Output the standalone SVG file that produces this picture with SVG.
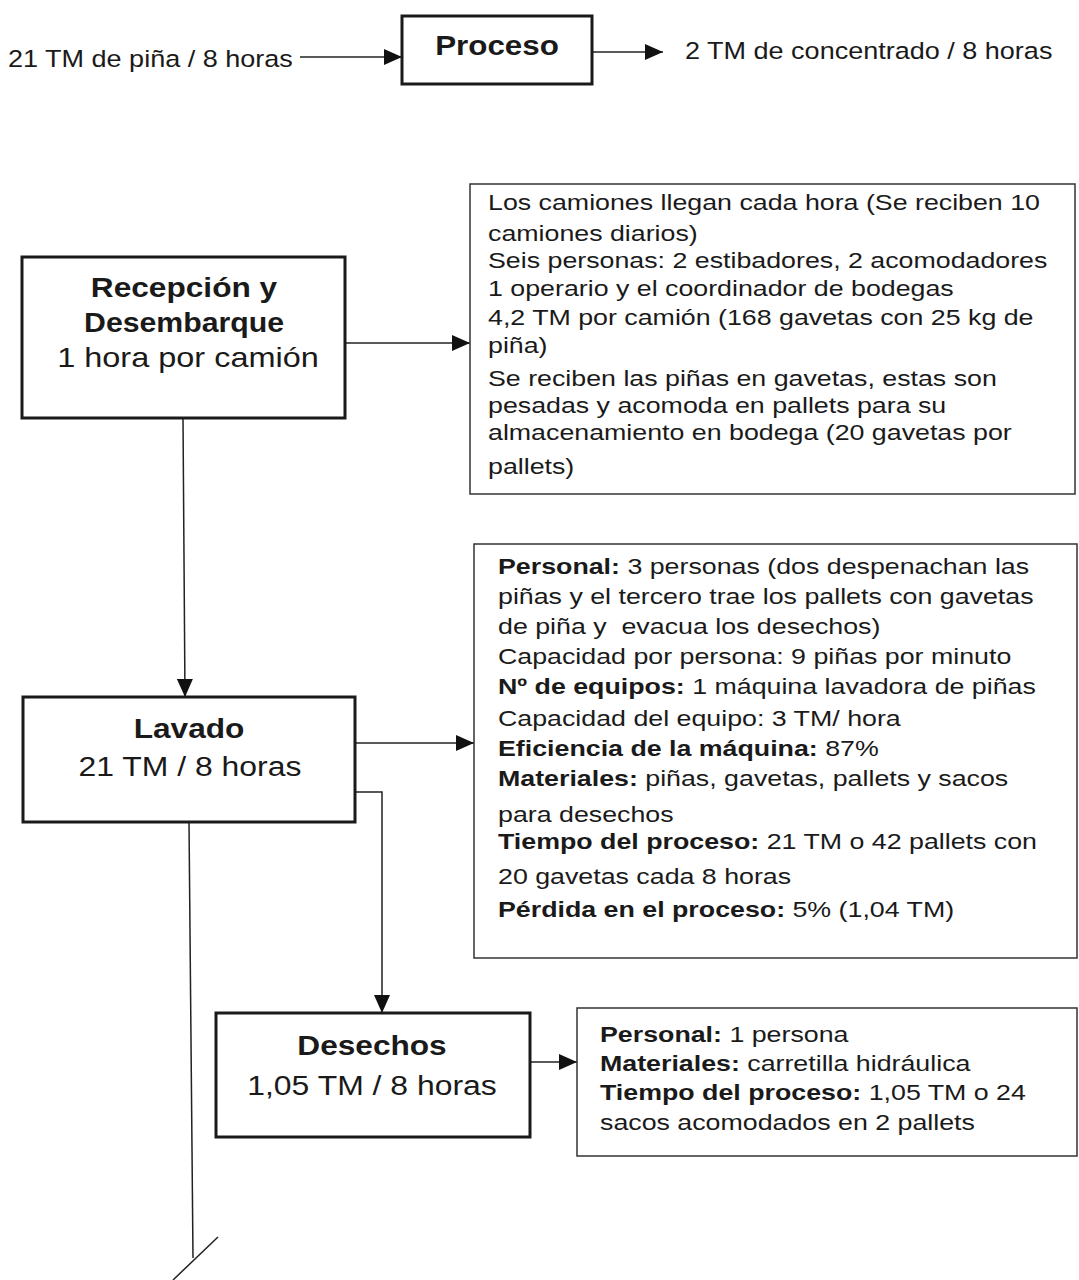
<svg xmlns="http://www.w3.org/2000/svg" width="1079" height="1280" viewBox="0 0 1079 1280">
  <style>
    .t { font-family: "Liberation Sans", Arial, sans-serif; fill: #1a1a1a; }
    .lbl { font-size: 23.5px; }
    .head { font-size: 28px; }
    .note { font-size: 22.5px; white-space: pre; }
    .b { font-weight: bold; }
    .node { fill: #fff; stroke: #1a1a1a; stroke-width: 3; }
    .info { fill: #fff; stroke: #333; stroke-width: 1.5; }
    .wire { fill: none; stroke: #222; stroke-width: 1.5; }
  </style>
  <defs>
    <marker id="arr" viewBox="0 0 18 16" refX="18" refY="8" markerWidth="18" markerHeight="16" markerUnits="userSpaceOnUse" orient="auto">
      <path d="M0,0 L18,8 L0,16 z" fill="#111"/>
    </marker>
  </defs>
  <rect width="1079" height="1280" fill="#fff"/>

  <!-- connectors -->
  <g id="connectors">
    <path class="wire" d="M300,57 L402,57" marker-end="url(#arr)"/>
    <path class="wire" d="M592,52 L663,52" marker-end="url(#arr)"/>
    <path class="wire" d="M345,343 L470,343" marker-end="url(#arr)"/>
    <path class="wire" d="M183,418 L185,697" marker-end="url(#arr)"/>
    <path class="wire" d="M355,743 L474,743" marker-end="url(#arr)"/>
    <path class="wire" d="M355,792 H382 V1013" marker-end="url(#arr)"/>
    <path class="wire" d="M530,1062 L577,1062" marker-end="url(#arr)"/>
    <path class="wire" d="M189,822 L193,1258"/>
    <path class="wire" d="M173,1280 L218,1237"/>
  </g>

  <!-- overall balance -->
  <g id="input-label">
    <text class="t lbl" transform="translate(8,67) scale(1.15,1)">21 TM de piña / 8 horas</text>
  </g>
  <g id="proceso">
    <rect class="node" x="402" y="16" width="190" height="68"/>
    <text class="t b" font-size="27.5" text-anchor="middle" transform="translate(497,55) scale(1.14,1)">Proceso</text>
  </g>
  <g id="output-label">
    <text class="t lbl" transform="translate(685,59) scale(1.15,1)">2 TM de concentrado / 8 horas</text>
  </g>

  <!-- reception -->
  <g id="recepcion">
    <rect class="node" x="22" y="257" width="323" height="161"/>
    <text class="t head b" text-anchor="middle" transform="translate(184,297) scale(1.13,1)">Recepción y</text>
    <text class="t head b" text-anchor="middle" transform="translate(184,332) scale(1.08,1)">Desembarque</text>
    <text class="t head" text-anchor="middle" transform="translate(188,367) scale(1.16,1)">1 hora por camión</text>
  </g>
  <g id="recepcion-info">
    <rect class="info" x="470" y="184" width="605" height="310"/>
    <g transform="translate(488,0)">
      <text class="t note" transform="translate(0,210) scale(1.19,1)">Los camiones llegan cada hora (Se reciben 10</text>
      <text class="t note" transform="translate(0,241) scale(1.19,1)">camiones diarios)</text>
      <text class="t note" transform="translate(0,268) scale(1.19,1)">Seis personas: 2 estibadores, 2 acomodadores</text>
      <text class="t note" transform="translate(0,296) scale(1.19,1)">1 operario y el coordinador de bodegas</text>
      <text class="t note" transform="translate(0,325) scale(1.19,1)">4,2 TM por camión (168 gavetas con 25 kg de</text>
      <text class="t note" transform="translate(0,353) scale(1.19,1)">piña)</text>
      <text class="t note" transform="translate(0,386) scale(1.19,1)">Se reciben las piñas en gavetas, estas son</text>
      <text class="t note" transform="translate(0,413) scale(1.19,1)">pesadas y acomoda en pallets para su</text>
      <text class="t note" transform="translate(0,440) scale(1.19,1)">almacenamiento en bodega (20 gavetas por</text>
      <text class="t note" transform="translate(0,474) scale(1.19,1)">pallets)</text>
    </g>
  </g>

  <!-- washing -->
  <g id="lavado">
    <rect class="node" x="23" y="697" width="332" height="125"/>
    <text class="t head b" text-anchor="middle" transform="translate(189,738) scale(1.13,1)">Lavado</text>
    <text class="t head" text-anchor="middle" transform="translate(190,776) scale(1.14,1)">21 TM / 8 horas</text>
  </g>
  <g id="lavado-info">
    <rect class="info" x="474" y="544" width="603" height="414"/>
    <g transform="translate(498,0)">
      <text class="t note" transform="translate(0,574) scale(1.19,1)"><tspan class="b">Personal:</tspan> 3 personas (dos despenachan las</text>
      <text class="t note" transform="translate(0,604) scale(1.19,1)">piñas y el tercero trae los pallets con gavetas</text>
      <text class="t note" transform="translate(0,634) scale(1.19,1)">de piña y  evacua los desechos)</text>
      <text class="t note" transform="translate(0,664) scale(1.19,1)">Capacidad por persona: 9 piñas por minuto</text>
      <text class="t note" transform="translate(0,694) scale(1.19,1)"><tspan class="b">Nº de equipos:</tspan> 1 máquina lavadora de piñas</text>
      <text class="t note" transform="translate(0,726) scale(1.19,1)">Capacidad del equipo: 3 TM/ hora</text>
      <text class="t note" transform="translate(0,756) scale(1.19,1)"><tspan class="b">Eficiencia de la máquina:</tspan> 87%</text>
      <text class="t note" transform="translate(0,786) scale(1.19,1)"><tspan class="b">Materiales:</tspan> piñas, gavetas, pallets y sacos</text>
      <text class="t note" transform="translate(0,822) scale(1.19,1)">para desechos</text>
      <text class="t note" transform="translate(0,849) scale(1.19,1)"><tspan class="b">Tiempo del proceso:</tspan> 21 TM o 42 pallets con</text>
      <text class="t note" transform="translate(0,884) scale(1.19,1)">20 gavetas cada 8 horas</text>
      <text class="t note" transform="translate(0,917) scale(1.19,1)"><tspan class="b">Pérdida en el proceso:</tspan> 5% (1,04 TM)</text>
    </g>
  </g>

  <!-- waste -->
  <g id="desechos">
    <rect class="node" x="216" y="1013" width="314" height="124"/>
    <text class="t head b" text-anchor="middle" transform="translate(372,1055) scale(1.13,1)">Desechos</text>
    <text class="t head" text-anchor="middle" transform="translate(372,1095) scale(1.14,1)">1,05 TM / 8 horas</text>
  </g>
  <g id="desechos-info">
    <rect class="info" x="577" y="1008" width="500" height="148"/>
    <g transform="translate(600,0)">
      <text class="t note" transform="translate(0,1042) scale(1.19,1)"><tspan class="b">Personal:</tspan> 1 persona</text>
      <text class="t note" transform="translate(0,1071) scale(1.19,1)"><tspan class="b">Materiales:</tspan> carretilla hidráulica</text>
      <text class="t note" transform="translate(0,1100) scale(1.19,1)"><tspan class="b">Tiempo del proceso:</tspan> 1,05 TM o 24</text>
      <text class="t note" transform="translate(0,1130) scale(1.19,1)">sacos acomodados en 2 pallets</text>
    </g>
  </g>
</svg>
